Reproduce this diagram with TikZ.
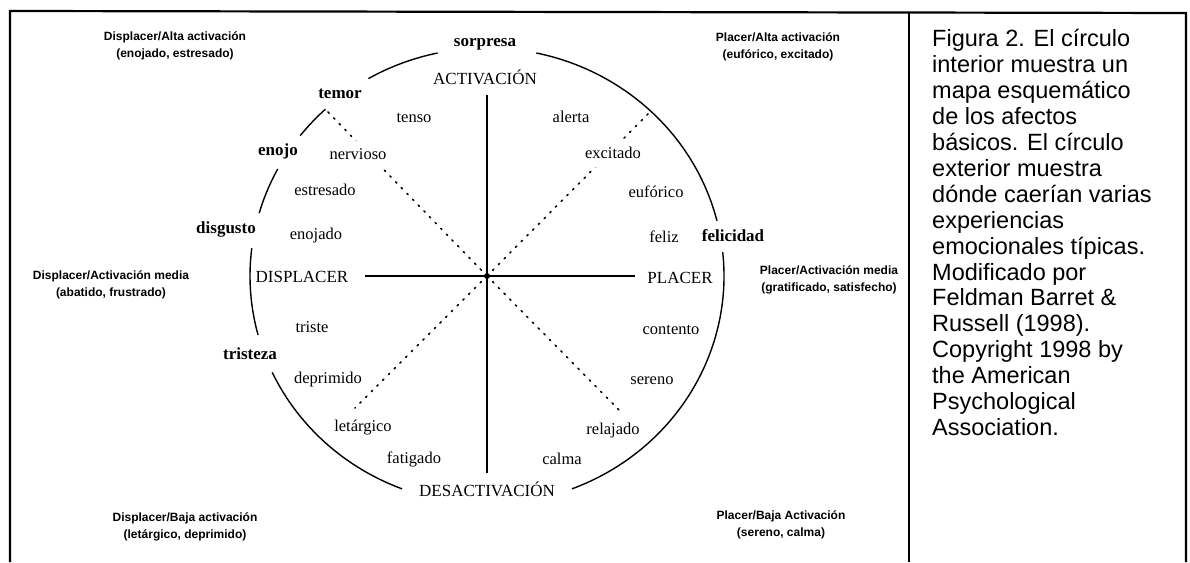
\documentclass[tikz,border=0pt]{standalone}
\usepackage{fontspec}
\setmainfont{Liberation Serif}
\newfontfamily\capsans{Liberation Sans}
\begin{document}
\begin{tikzpicture}[x=1pt,y=1pt,
  inner/.style={font=\fontsize{16.5}{18}\selectfont, inner sep=3pt, fill=white, anchor=base},
  wide/.style={inner sep=8pt},
  outer/.style={font=\fontsize{17}{19}\selectfont\bfseries, inner sep=0pt, anchor=base},
  axislabel/.style={font=\fontsize{17}{19}\selectfont, inner sep=0pt, anchor=base},
  quad/.style={font=\capsans\bfseries\fontsize{12}{17}\selectfont, align=center, inner sep=0pt},
  captext/.style={font=\capsans\fontsize{23.5}{26}\selectfont, inner sep=0pt, anchor=base west},
  rim/.style={line width=1.4pt},
  axisline/.style={line width=2pt},
  diag/.style={line width=1.6pt, dash pattern=on 1.6pt off 6.5pt, line cap=round},
  frame/.style={line width=2.2pt}]
\useasboundingbox (0,0) rectangle (1190,562);
\fill[white] (0,0) rectangle (1190,562);

% frame
\draw[frame] (10,0) -- (10,551) -- (1186,549) -- (1186,0);
\draw[frame] (909,550) -- (909,0);

% centre
\coordinate (c) at (487,286);

% dotted diagonals (drawn first, the words mask them)
\coordinate (dNW) at (325,453);
\coordinate (dNE) at (649,449);
\coordinate (dSW) at (355,154);
\coordinate (dSE) at (621,150);
\draw[diag] (c) -- (dNW);
\draw[diag] (c) -- (dNE);
\draw[diag] (c) -- (dSW);
\draw[diag] (c) -- (dSE);

% axis labels
\node[axislabel] (act) at (485,477) {ACTIVACIÓN};
\node[axislabel] (desact) at (487,66) {DESACTIVACIÓN};
\node[axislabel] (displ) at (302,279) {DISPLACER};
\node[axislabel] (plac) at (680,278) {PLACER};

% outer emotions
\node[outer] (sorpresa) at (485,515) {sorpresa};
\node[outer] (temor) at (340,463) {temor};
\node[outer] (enojo) at (278,406) {enojo};
\node[outer] (disgusto) at (226,328) {disgusto};
\node[outer] (tristeza) at (250,202) {tristeza};
\node[outer] (felicidad) at (733,320) {felicidad};

% inner affects
\node[inner] (tenso) at (414,439) {tenso};
\node[inner] (alerta) at (571,439) {alerta};
\node[inner, wide] (nervioso) at (358,402) {nervioso};
\node[inner, wide] (excitado) at (613,403) {excitado};
\node[inner] (estresado) at (325,366) {estresado};
\node[inner] (euforico) at (656,364) {eufórico};
\node[inner] (enojado) at (316,322) {enojado};
\node[inner] (feliz) at (664,319) {feliz};
\node[inner] (triste) at (312,229) {triste};
\node[inner] (contento) at (671,227) {contento};
\node[inner] (deprimido) at (328,178) {deprimido};
\node[inner] (sereno) at (652,177) {sereno};
\node[inner] (letargico) at (363,130) {letárgico};
\node[inner] (relajado) at (613,127) {relajado};
\node[inner] (fatigado) at (414,99) {fatigado};
\node[inner] (calma) at (562,98) {calma};

% quadrant labels
\node[quad] (qDA) at (175,516) {Displacer/Alta activación\\(enojado, estresado)};
\node[quad] (qPA) at (778,515) {Placer/Alta activación\\(eufórico, excitado)};
\node[quad] (qDM) at (111,277) {Displacer/Activación media\\(abatido, frustrado)};
\node[quad] (qPM) at (829,282) {Placer/Activación media\\(gratificado, satisfecho)};
\node[quad] (qDB) at (185,35) {Displacer/Baja activación\\(letárgico, deprimido)};
\node[quad] (qPB) at (781,37) {Placer/Baja Activación\\(sereno, calma)};

% outer circle (broken by the outer labels)
\draw[rim] ([shift={(78:237 and 228)}]c) arc[start angle=78, end angle=14, x radius=237, y radius=228];
\draw[rim] ([shift={(6:237 and 228)}]c) arc[start angle=6, end angle=-69, x radius=237, y radius=228];
\draw[rim] ([shift={(-111:237 and 228)}]c) arc[start angle=-111, end angle=-155, x radius=237, y radius=228];
\draw[rim] ([shift={(195:237 and 228)}]c) arc[start angle=195, end angle=173, x radius=237, y radius=228];
\draw[rim] ([shift={(164:237 and 228)}]c) arc[start angle=164, end angle=152, x radius=237, y radius=228];
\draw[rim] ([shift={(142:237 and 228)}]c) arc[start angle=142, end angle=133, x radius=237, y radius=228];
\draw[rim] ([shift={(120:237 and 228)}]c) arc[start angle=120, end angle=102, x radius=237, y radius=228];

% axes
\draw[axisline, shorten <=17pt, shorten >=12pt] (displ.east |- c) -- (plac.west |- c);
\draw[axisline, shorten <=10pt, shorten >=8pt] (act.south -| c) -- (desact.north -| c);
\fill (c) circle[radius=3];

% caption
\foreach \t [count=\k from 0] in {{Figura 2. El círculo},{interior muestra un},{mapa esquemático},{de los afectos},{básicos. El círculo},{exterior muestra},{dónde caerían varias},{experiencias},{emocionales típicas.},{Modificado por},{Feldman Barret \&},{Russell (1998).},{Copyright 1998 by},{the American},{Psychological},{Association.}}
  \node[captext] (cap\k) at (932,{515-25.9*\k}) {\t};
\end{tikzpicture}
\end{document}
